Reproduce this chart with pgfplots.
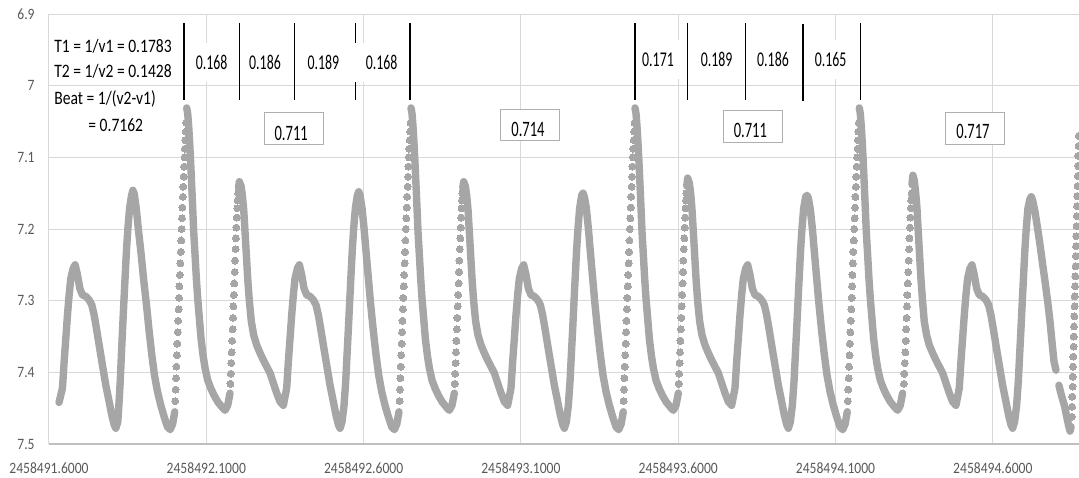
\documentclass[border=0pt]{standalone}
\usepackage{fontspec}
\setmainfont{Carlito}
\newfontfamily\tickfont{Carlito}[FakeStretch=0.86]
\newfontfamily\annfont{Carlito}[FakeStretch=0.82]
\newfontfamily\numfont{Carlito}[FakeStretch=0.66]
\usepackage{pgfplots}
\usepackage{pgfplotstable}
\pgfplotsset{compat=1.18}
\definecolor{dotgray}{RGB}{166,166,166}
\definecolor{gridgray}{RGB}{217,217,217}
\definecolor{tickgray}{RGB}{89,89,89}
\definecolor{boxgray}{RGB}{175,175,175}
\definecolor{basegray}{RGB}{191,191,191}

% continuous (dense) parts of the light curve; t = JD - 2458491.6
\pgfplotstableread{
t m
0.0318 7.442
0.0428 7.422
0.0481 7.385
0.0534 7.353
0.0587 7.320
0.0640 7.292
0.0693 7.269
0.0768 7.255
0.0831 7.250
0.0905 7.264
0.0980 7.283
0.1064 7.292
0.1170 7.294
0.1276 7.299
0.1361 7.306
0.1435 7.320
0.1509 7.339
0.1594 7.362
0.1700 7.390
0.1806 7.418
0.1912 7.441
0.1997 7.460
0.2071 7.473
0.2124 7.478
0.2187 7.469
0.2221 7.446
0.2264 7.413
0.2301 7.376
0.2339 7.339
0.2381 7.301
0.2423 7.264
0.2466 7.227
0.2508 7.199
0.2561 7.171
0.2625 7.153
0.2667 7.146
0.2710 7.151
0.2773 7.171
0.2837 7.199
0.2921 7.232
0.3005 7.269
0.3099 7.306
0.3184 7.343
0.3269 7.376
0.3353 7.404
0.3449 7.427
0.3554 7.446
0.3660 7.462
0.3766 7.476
0.3851 7.480
0.3930 7.472
0.3997 7.455
nan nan
0.4377 7.031
0.4409 7.039
0.4441 7.057
0.4472 7.080
0.4504 7.108
0.4536 7.139
0.4568 7.171
0.4600 7.204
0.4642 7.236
0.4684 7.269
0.4727 7.297
0.4780 7.325
0.4833 7.353
0.4896 7.376
0.4960 7.394
0.5045 7.411
0.5140 7.422
0.5246 7.432
0.5362 7.441
0.5490 7.448
0.5595 7.453
0.5680 7.446
0.5754 7.429
nan nan
0.6022 7.143
0.6051 7.134
0.6104 7.140
0.6146 7.153
0.6189 7.173
0.6231 7.204
0.6273 7.236
0.6316 7.269
0.6369 7.301
0.6432 7.329
0.6506 7.348
0.6602 7.362
0.6708 7.373
0.6814 7.383
0.6920 7.392
0.7026 7.401
0.7132 7.415
0.7238 7.429
0.7344 7.441
0.7449 7.446
0.7555 7.422
0.7608 7.385
0.7661 7.353
0.7714 7.320
0.7767 7.292
0.7820 7.269
0.7895 7.255
0.7958 7.250
0.8032 7.264
0.8107 7.283
0.8191 7.292
0.8297 7.294
0.8403 7.299
0.8488 7.306
0.8562 7.320
0.8636 7.339
0.8721 7.362
0.8827 7.390
0.8933 7.418
0.9039 7.441
0.9124 7.460
0.9198 7.473
0.9251 7.478
0.9314 7.469
0.9378 7.446
0.9431 7.413
0.9473 7.376
0.9516 7.339
0.9558 7.301
0.9600 7.264
0.9643 7.227
0.9685 7.199
0.9738 7.171
0.9802 7.153
0.9844 7.148
0.9887 7.153
0.9950 7.171
1.0014 7.199
1.0078 7.232
1.0152 7.269
1.0226 7.306
1.0311 7.343
1.0396 7.376
1.0480 7.404
1.0576 7.427
1.0681 7.446
1.0787 7.462
1.0893 7.476
1.0978 7.480
1.1057 7.472
1.1124 7.455
nan nan
1.1507 7.031
1.1539 7.039
1.1571 7.057
1.1602 7.080
1.1634 7.108
1.1666 7.139
1.1698 7.171
1.1730 7.204
1.1772 7.236
1.1814 7.269
1.1857 7.297
1.1910 7.325
1.1963 7.353
1.2026 7.376
1.2090 7.394
1.2175 7.411
1.2270 7.422
1.2376 7.432
1.2492 7.441
1.2620 7.448
1.2725 7.453
1.2810 7.446
1.2884 7.429
nan nan
1.3152 7.143
1.3181 7.134
1.3234 7.140
1.3276 7.153
1.3319 7.173
1.3361 7.204
1.3403 7.236
1.3446 7.269
1.3499 7.301
1.3562 7.329
1.3636 7.348
1.3732 7.362
1.3838 7.373
1.3944 7.383
1.4050 7.392
1.4156 7.401
1.4262 7.415
1.4368 7.429
1.4474 7.441
1.4579 7.446
1.4685 7.422
1.4738 7.385
1.4791 7.353
1.4844 7.320
1.4897 7.292
1.4950 7.269
1.5025 7.255
1.5088 7.250
1.5162 7.264
1.5237 7.283
1.5321 7.292
1.5427 7.294
1.5533 7.299
1.5618 7.306
1.5692 7.320
1.5766 7.339
1.5851 7.362
1.5957 7.390
1.6063 7.418
1.6169 7.441
1.6254 7.460
1.6328 7.473
1.6381 7.478
1.6444 7.469
1.6508 7.446
1.6561 7.413
1.6603 7.376
1.6646 7.339
1.6688 7.301
1.6730 7.264
1.6773 7.227
1.6815 7.199
1.6868 7.171
1.6932 7.153
1.6974 7.150
1.7017 7.155
1.7080 7.171
1.7144 7.199
1.7208 7.232
1.7282 7.269
1.7356 7.306
1.7441 7.343
1.7526 7.376
1.7610 7.404
1.7706 7.427
1.7811 7.446
1.7917 7.462
1.8023 7.476
1.8108 7.480
1.8187 7.472
1.8254 7.455
nan nan
1.8627 7.031
1.8659 7.039
1.8691 7.057
1.8722 7.080
1.8754 7.108
1.8786 7.139
1.8818 7.171
1.8850 7.204
1.8892 7.236
1.8934 7.269
1.8977 7.297
1.9030 7.325
1.9083 7.353
1.9146 7.376
1.9210 7.394
1.9295 7.411
1.9390 7.422
1.9496 7.432
1.9612 7.441
1.9740 7.448
1.9845 7.453
1.9930 7.446
2.0004 7.429
nan nan
2.0272 7.140
2.0301 7.129
2.0354 7.136
2.0396 7.150
2.0439 7.173
2.0481 7.204
2.0523 7.236
2.0566 7.269
2.0619 7.301
2.0682 7.329
2.0756 7.348
2.0852 7.362
2.0958 7.373
2.1064 7.383
2.1170 7.392
2.1276 7.401
2.1382 7.415
2.1488 7.429
2.1594 7.441
2.1699 7.446
2.1805 7.422
2.1858 7.385
2.1911 7.353
2.1964 7.320
2.2017 7.292
2.2070 7.269
2.2145 7.255
2.2208 7.250
2.2282 7.264
2.2357 7.283
2.2441 7.292
2.2547 7.294
2.2653 7.299
2.2738 7.306
2.2812 7.320
2.2886 7.339
2.2971 7.362
2.3077 7.390
2.3183 7.418
2.3289 7.441
2.3374 7.460
2.3448 7.473
2.3501 7.478
2.3564 7.469
2.3628 7.446
2.3681 7.413
2.3723 7.376
2.3766 7.339
2.3808 7.301
2.3850 7.264
2.3893 7.227
2.3935 7.199
2.3988 7.171
2.4052 7.155
2.4094 7.153
2.4137 7.157
2.4200 7.173
2.4264 7.199
2.4328 7.232
2.4402 7.269
2.4476 7.306
2.4561 7.343
2.4646 7.376
2.4730 7.404
2.4826 7.427
2.4931 7.446
2.5037 7.462
2.5143 7.476
2.5228 7.480
2.5307 7.472
2.5374 7.455
nan nan
2.5756 7.031
2.5788 7.039
2.5820 7.057
2.5851 7.080
2.5883 7.108
2.5915 7.139
2.5947 7.171
2.5979 7.204
2.6021 7.236
2.6063 7.269
2.6106 7.297
2.6159 7.325
2.6212 7.353
2.6275 7.376
2.6339 7.394
2.6424 7.411
2.6519 7.422
2.6625 7.432
2.6741 7.441
2.6869 7.448
2.6974 7.453
2.7059 7.446
2.7133 7.429
nan nan
2.7431 7.138
2.7460 7.125
2.7503 7.132
2.7545 7.148
2.7588 7.170
2.7630 7.204
2.7672 7.236
2.7715 7.269
2.7768 7.301
2.7821 7.329
2.7895 7.348
2.7981 7.362
2.8087 7.373
2.8193 7.383
2.8299 7.392
2.8405 7.401
2.8511 7.415
2.8617 7.429
2.8723 7.441
2.8828 7.446
2.8934 7.422
2.8987 7.385
2.9040 7.353
2.9093 7.320
2.9146 7.292
2.9199 7.269
2.9274 7.255
2.9337 7.250
2.9411 7.264
2.9486 7.283
2.9570 7.292
2.9676 7.294
2.9782 7.299
2.9867 7.306
2.9941 7.320
3.0015 7.339
3.0100 7.362
3.0206 7.390
3.0312 7.418
3.0418 7.441
3.0503 7.460
3.0577 7.473
3.0630 7.478
3.0693 7.469
3.0757 7.446
3.0810 7.413
3.0852 7.376
3.0895 7.339
3.0937 7.301
3.0979 7.264
3.1022 7.227
3.1064 7.199
3.1117 7.171
3.1181 7.158
3.1223 7.155
3.1266 7.160
3.1341 7.176
3.1420 7.198
3.1500 7.222
3.1580 7.248
3.1659 7.273
3.1740 7.300
3.1818 7.329
3.1880 7.357
3.1945 7.385
3.2008 7.397
nan nan
3.2100 7.418
3.2180 7.432
3.2275 7.446
3.2340 7.460
3.2402 7.473
3.2455 7.482
3.2490 7.476
}\tabLine

% sparsely sampled steep rises (individual dots visible)
\pgfplotstableread{
t m
0.4012 7.440
0.4025 7.424
0.4039 7.408
0.4052 7.392
0.4066 7.376
0.4079 7.360
0.4093 7.344
0.4106 7.328
0.4120 7.312
0.4133 7.296
0.4147 7.280
0.4160 7.264
0.4174 7.248
0.4187 7.232
0.4201 7.216
0.4214 7.200
0.4228 7.185
0.4241 7.170
0.4255 7.155
0.4268 7.141
0.4282 7.127
0.4295 7.113
0.4309 7.100
0.4322 7.088
0.4336 7.076
0.4350 7.064
0.4363 7.052
0.5767 7.416
0.5780 7.402
0.5794 7.387
0.5807 7.372
0.5821 7.356
0.5834 7.340
0.5848 7.324
0.5861 7.308
0.5875 7.292
0.5888 7.276
0.5902 7.260
0.5915 7.244
0.5929 7.228
0.5942 7.213
0.5956 7.198
0.5969 7.184
0.5983 7.171
0.5996 7.160
0.6010 7.150
1.1142 7.440
1.1155 7.424
1.1169 7.408
1.1182 7.392
1.1196 7.376
1.1209 7.360
1.1223 7.344
1.1236 7.328
1.1250 7.312
1.1263 7.296
1.1277 7.280
1.1290 7.264
1.1304 7.248
1.1317 7.232
1.1331 7.216
1.1344 7.200
1.1358 7.185
1.1371 7.170
1.1385 7.155
1.1398 7.141
1.1412 7.127
1.1425 7.113
1.1439 7.100
1.1452 7.088
1.1466 7.076
1.1480 7.064
1.1493 7.052
1.2897 7.416
1.2910 7.402
1.2924 7.387
1.2937 7.372
1.2951 7.356
1.2964 7.340
1.2978 7.324
1.2991 7.308
1.3005 7.292
1.3018 7.276
1.3032 7.260
1.3045 7.244
1.3059 7.228
1.3072 7.213
1.3086 7.198
1.3099 7.184
1.3113 7.171
1.3126 7.160
1.3140 7.150
1.8262 7.440
1.8275 7.424
1.8289 7.408
1.8302 7.392
1.8316 7.376
1.8329 7.360
1.8343 7.344
1.8356 7.328
1.8370 7.312
1.8383 7.296
1.8397 7.280
1.8410 7.264
1.8424 7.248
1.8437 7.232
1.8451 7.216
1.8464 7.200
1.8478 7.185
1.8491 7.170
1.8505 7.155
1.8518 7.141
1.8532 7.127
1.8545 7.113
1.8559 7.100
1.8572 7.088
1.8586 7.076
1.8600 7.064
1.8613 7.052
2.0017 7.416
2.0030 7.402
2.0044 7.387
2.0057 7.372
2.0071 7.356
2.0084 7.340
2.0098 7.324
2.0111 7.308
2.0125 7.292
2.0138 7.276
2.0152 7.260
2.0165 7.244
2.0179 7.228
2.0192 7.213
2.0206 7.198
2.0219 7.184
2.0233 7.171
2.0246 7.160
2.0260 7.150
2.5391 7.440
2.5404 7.424
2.5418 7.408
2.5431 7.392
2.5445 7.376
2.5458 7.360
2.5472 7.344
2.5485 7.328
2.5499 7.312
2.5512 7.296
2.5526 7.280
2.5539 7.264
2.5553 7.248
2.5566 7.232
2.5580 7.216
2.5593 7.200
2.5607 7.185
2.5620 7.170
2.5634 7.155
2.5647 7.141
2.5661 7.127
2.5674 7.113
2.5688 7.100
2.5701 7.088
2.5715 7.076
2.5729 7.064
2.5742 7.052
2.7176 7.416
2.7189 7.402
2.7203 7.387
2.7216 7.372
2.7230 7.356
2.7243 7.340
2.7257 7.324
2.7270 7.308
2.7284 7.292
2.7297 7.276
2.7311 7.260
2.7324 7.244
2.7338 7.228
2.7351 7.213
2.7365 7.198
2.7378 7.184
2.7392 7.171
2.7405 7.160
2.7419 7.150
3.2510 7.462
3.2518 7.448
3.2526 7.434
3.2534 7.420
3.2542 7.406
3.2550 7.392
3.2558 7.378
3.2566 7.364
3.2574 7.350
3.2582 7.336
3.2590 7.322
3.2598 7.308
3.2606 7.294
3.2614 7.280
3.2622 7.266
3.2630 7.252
3.2638 7.238
3.2646 7.224
3.2654 7.210
3.2662 7.196
3.2670 7.182
3.2678 7.168
3.2686 7.154
3.2694 7.140
3.2702 7.126
3.2710 7.112
3.2718 7.098
3.2726 7.084
3.2734 7.070
}\tabDots

\begin{document}
\begin{tikzpicture}
\begin{axis}[
  scale only axis, width=515pt, height=215pt,
  xmin=0, xmax=3.274, ymin=6.9, ymax=7.5, y dir=reverse,
  xtick={0,0.5,1,1.5,2,2.5,3},
  xticklabels={2458491.6000,2458492.1000,2458492.6000,2458493.1000,2458493.6000,2458494.1000,2458494.6000},
  ytick={6.9,7,7.1,7.2,7.3,7.4,7.5},
  yticklabels={6.9,7,7.1,7.2,7.3,7.4,7.5},
  major tick length=0pt,
  grid=major,
  grid style={gridgray, line width=0.5pt},
  axis line style={draw=none},
  tick label style={font=\tickfont\fontsize{7.9}{9}\selectfont, text=tickgray},
  xticklabel style={anchor=north, inner sep=0pt, yshift=-8.9pt},
  yticklabel style={anchor=east, inner sep=0pt, xshift=-7pt},
]
\draw[basegray, line width=0.75pt] (axis cs:0,7.5) -- (axis cs:3.274,7.5);

\addplot[color=dotgray, draw=dotgray, line width=3.7pt, line cap=round, line join=round, no marks, unbounded coords=jump]
  table[x=t, y=m] {\tabLine};
\addplot[color=dotgray, only marks, mark=*, mark size=1.75pt, mark options={solid, draw=dotgray, fill=dotgray, line width=0pt}]
  table[x=t, y=m] {\tabDots};

% line partly hidden by the label box
\draw[black, line width=0.75pt] (axis cs:0.9749,6.9126) -- (axis cs:0.9749,7.020);

% white label boxes
\fill[white] (axis cs:0.4314,6.9405) rectangle (axis cs:0.6030,6.9949);
\fill[white] (axis cs:0.6008,6.9405) rectangle (axis cs:0.7724,6.9949);
\fill[white] (axis cs:0.7861,6.9405) rectangle (axis cs:0.9577,6.9949);
\fill[white] (axis cs:0.9717,6.9405) rectangle (axis cs:1.1433,6.9949);
\fill[white] (axis cs:1.8500,6.9363) rectangle (axis cs:2.0216,6.9907);
\fill[white] (axis cs:2.0363,6.9363) rectangle (axis cs:2.2079,6.9907);
\fill[white] (axis cs:2.2155,6.9363) rectangle (axis cs:2.3871,6.9907);
\fill[white] (axis cs:2.3986,6.9363) rectangle (axis cs:2.5702,6.9907);

\node[anchor=base, inner sep=0pt, font=\numfont\fontsize{10.5}{12}\selectfont] at (axis cs:0.5172,6.9772) {0.168};
\node[anchor=base, inner sep=0pt, font=\numfont\fontsize{10.5}{12}\selectfont] at (axis cs:0.6866,6.9772) {0.186};
\node[anchor=base, inner sep=0pt, font=\numfont\fontsize{10.5}{12}\selectfont] at (axis cs:0.8719,6.9772) {0.189};
\node[anchor=base, inner sep=0pt, font=\numfont\fontsize{10.5}{12}\selectfont] at (axis cs:1.0575,6.9772) {0.168};
\node[anchor=base, inner sep=0pt, font=\numfont\fontsize{10.5}{12}\selectfont] at (axis cs:1.9358,6.9726) {0.171};
\node[anchor=base, inner sep=0pt, font=\numfont\fontsize{10.5}{12}\selectfont] at (axis cs:2.1221,6.9726) {0.189};
\node[anchor=base, inner sep=0pt, font=\numfont\fontsize{10.5}{12}\selectfont] at (axis cs:2.3013,6.9726) {0.186};
\node[anchor=base, inner sep=0pt, font=\numfont\fontsize{10.5}{12}\selectfont] at (axis cs:2.4844,6.9726) {0.165};

% vertical marker lines
\draw[black, line width=0.75pt] (axis cs:0.4291,6.9126) -- (axis cs:0.4291,7.020);
\draw[black, line width=0.75pt] (axis cs:0.6049,6.9126) -- (axis cs:0.6049,7.020);
\draw[black, line width=0.75pt] (axis cs:0.7810,6.9126) -- (axis cs:0.7810,7.020);
\draw[black, line width=0.75pt] (axis cs:1.1475,6.9126) -- (axis cs:1.1475,7.020);
\draw[black, line width=0.75pt] (axis cs:1.8627,6.9126) -- (axis cs:1.8627,7.020);
\draw[black, line width=0.75pt] (axis cs:2.0296,6.9126) -- (axis cs:2.0296,7.020);
\draw[black, line width=0.75pt] (axis cs:2.2143,6.9126) -- (axis cs:2.2143,7.020);
\draw[black, line width=0.75pt] (axis cs:2.3964,6.9140) -- (axis cs:2.3964,7.021);
\draw[black, line width=0.75pt] (axis cs:2.5795,6.9126) -- (axis cs:2.5795,7.020);

% boxed beat values
\draw[boxgray, line width=0.5pt, fill=white] (axis cs:0.6834,7.0377) rectangle (axis cs:0.8710,7.0814);
\draw[boxgray, line width=0.5pt, fill=white] (axis cs:1.4355,7.0326) rectangle (axis cs:1.6230,7.0768);
\draw[boxgray, line width=0.5pt, fill=white] (axis cs:2.1424,7.0353) rectangle (axis cs:2.3300,7.0796);
\draw[boxgray, line width=0.5pt, fill=white] (axis cs:2.8497,7.0377) rectangle (axis cs:3.0356,7.0814);
\node[anchor=base, inner sep=0pt, font=\numfont\fontsize{11}{13}\selectfont] at (axis cs:0.7698,7.0758) {0.711};
\node[anchor=base, inner sep=0pt, font=\numfont\fontsize{11}{13}\selectfont] at (axis cs:1.5226,7.0712) {0.714};
\node[anchor=base, inner sep=0pt, font=\numfont\fontsize{11}{13}\selectfont] at (axis cs:2.2295,7.0721) {0.711};
\node[anchor=base, inner sep=0pt, font=\numfont\fontsize{11}{13}\selectfont] at (axis cs:2.9371,7.0735) {0.717};

% period text
\node[anchor=base west, inner sep=0pt, font=\annfont\fontsize{9.5}{11}\selectfont] at (axis cs:0.0159,6.9540) {T1 = 1/v1 = 0.1783};
\node[anchor=base west, inner sep=0pt, font=\annfont\fontsize{9.5}{11}\selectfont] at (axis cs:0.0159,6.9889) {T2 = 1/v2 = 0.1428};
\node[anchor=base west, inner sep=0pt, font=\annfont\fontsize{9.5}{11}\selectfont] at (axis cs:0.0159,7.0256) {Beat = 1/(v2-v1)};
\node[anchor=base west, inner sep=0pt, font=\annfont\fontsize{9.5}{11}\selectfont] at (axis cs:0.1240,7.0642) {= 0.7162};
\end{axis}
\pgfresetboundingbox
\path (-24.5pt,-16.5pt) rectangle (515pt,222pt);
\end{tikzpicture}
\end{document}
